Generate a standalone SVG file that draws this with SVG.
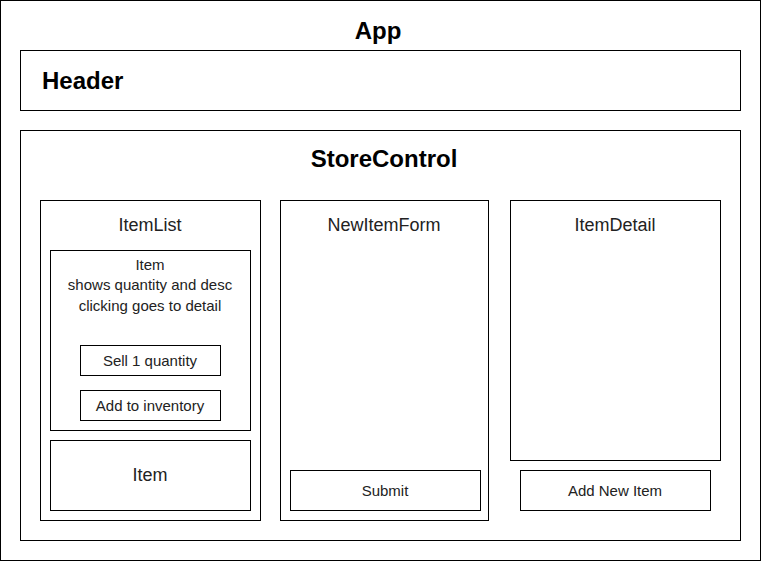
<svg xmlns="http://www.w3.org/2000/svg" width="761" height="561" viewBox="0 0 761 561">
  <style>
    rect { fill: #ffffff; stroke: #000000; stroke-width: 1; }
    text { font-family: "Liberation Sans", Arial, sans-serif; fill: #222222; text-anchor: middle; dominant-baseline: central; }
    .title { font-size: 24px; font-weight: bold; fill: #000000; }
    .lbl { font-size: 18px; }
    .sm { font-size: 15px; }
  </style>
  <g id="app">
    <rect x="0.5" y="0.5" width="760" height="560"/>
    <text class="title" x="378" y="30">App</text>
  </g>
  <g id="header">
    <rect x="20.5" y="50.5" width="720" height="60"/>
    <text class="title" x="42" y="80" style="text-anchor:start">Header</text>
  </g>
  <g id="store-control">
    <rect x="20.5" y="130.5" width="720" height="410"/>
    <text class="title" x="384" y="158">StoreControl</text>
  </g>
  <g id="item-list">
    <rect x="40.5" y="200.5" width="220" height="320"/>
    <text class="lbl" x="150" y="225">ItemList</text>
  </g>
  <g id="item-1">
    <rect x="50.5" y="250.5" width="200" height="180"/>
    <text class="sm" x="150" y="264">Item</text>
    <text class="sm" x="150" y="284.5">shows quantity and desc</text>
    <text class="sm" x="150" y="305">clicking goes to detail</text>
  </g>
  <g id="sell-button">
    <rect x="80.5" y="345.5" width="140" height="30"/>
    <text class="sm" x="150" y="360">Sell 1 quantity</text>
  </g>
  <g id="add-inventory-button">
    <rect x="80.5" y="390.5" width="140" height="30"/>
    <text class="sm" x="150" y="405">Add to inventory</text>
  </g>
  <g id="item-2">
    <rect x="50.5" y="440.5" width="200" height="70"/>
    <text class="lbl" x="150" y="475">Item</text>
  </g>
  <g id="new-item-form">
    <rect x="280.5" y="200.5" width="208" height="320"/>
    <text class="lbl" x="384" y="225">NewItemForm</text>
  </g>
  <g id="submit-button">
    <rect x="290.5" y="470.5" width="190" height="40"/>
    <text class="sm" x="385" y="490">Submit</text>
  </g>
  <g id="item-detail">
    <rect x="510.5" y="200.5" width="210" height="260"/>
    <text class="lbl" x="615" y="225">ItemDetail</text>
  </g>
  <g id="add-new-item-button">
    <rect x="520.5" y="470.5" width="190" height="40"/>
    <text class="sm" x="615" y="490">Add New Item</text>
  </g>
  <g id="connectors"/>
</svg>
